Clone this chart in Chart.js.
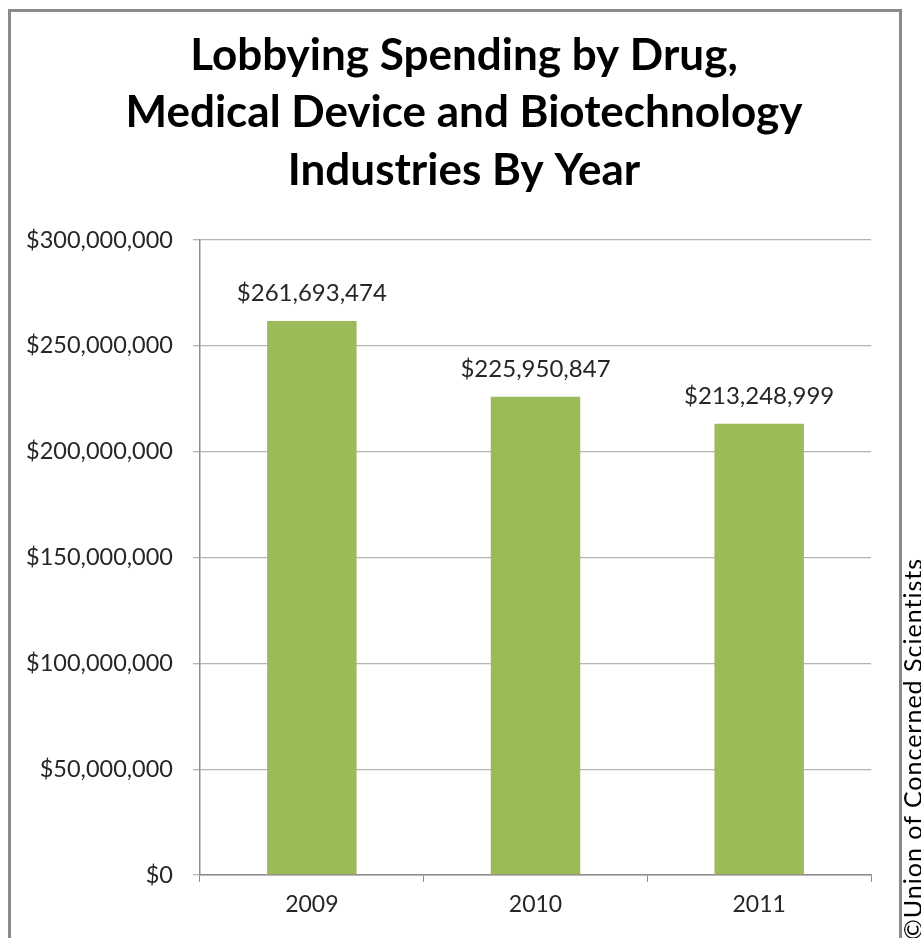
<!DOCTYPE html>
<html>
<head>
<meta charset="utf-8">
<script src="https://cdn.jsdelivr.net/npm/chart.js@4"></script>
<style>
  html, body { margin: 0; padding: 0; background: #fff; overflow: hidden; }
  #wrap { position: relative; width: 921px; height: 938px; overflow: hidden; }
  #frame { position: absolute; left: 8px; top: 9px; width: 894px; height: 960px;
           border: 3px solid #8a8a8a; box-sizing: border-box; }
  #canvas { position: absolute; left: 0; top: 0; }
  #credit { position: absolute; left: 897px; top: 940px; transform-origin: 0 0;
            transform: rotate(-90deg); white-space: nowrap; line-height: 1.2;
            letter-spacing: 1px;
            font-family: Lato, "Open Sans", sans-serif; font-size: 25px; color: #000; }
</style>
</head>
<body>
<div id="wrap">
  <div id="frame"></div>
  <canvas id="canvas" width="921" height="938"></canvas>
  <div id="credit">©Union of Concerned Scientists</div>
</div>
<script>
// lobbying totals per year
var years = ["2009", "2010", "2011"];
var spending = [261693474, 225950847, 213248999];
var yTicks = [0, 50000000, 100000000, 150000000, 200000000, 250000000, 300000000];

var titleLines = ["Lobbying Spending by Drug,", "Medical Device and Biotechnology", "Industries By Year"];

function dollars(v) {
  return "$" + Number(v).toLocaleString("en-US");
}

var fontFamily = "Lato, 'Open Sans', sans-serif";

// draws the dollar amount above every bar
var barLabels = {
  id: "barLabels",
  afterDatasetsDraw: function(chart) {
    var ctx = chart.ctx;
    var meta = chart.getDatasetMeta(0);
    ctx.save();
    ctx.font = "24px " + fontFamily;
    ctx.fillStyle = "#262626";
    ctx.textAlign = "center";
    ctx.textBaseline = "alphabetic";
    meta.data.forEach(function(bar, i) {
      ctx.fillText(dollars(chart.data.datasets[0].data[i]), bar.x, bar.y - 20);
    });
    ctx.restore();
  }
};

// centre the title on the frame rather than on the canvas
var frameTitle = {
  id: "frameTitle",
  afterLayout: function(chart) {
    if (chart.titleBlock) {
      chart.titleBlock.left = 57;
      chart.titleBlock.right = 871;
    }
  }
};

window.onload = function() {
  var ctx = document.getElementById("canvas").getContext("2d");
  window.myBar = new Chart(ctx, {
    type: "bar",
    data: {
      labels: years,
      datasets: [{
        data: spending,
        backgroundColor: "#9bbb59",
        borderWidth: 0,
        categoryPercentage: 1,
        barPercentage: 0.4
      }]
    },
    options: {
      responsive: false,
      animation: false,
      layout: { padding: { left: 0, right: 50, top: 0, bottom: 0 } },
      plugins: {
        legend: { display: false },
        tooltip: { enabled: false },
        title: {
          display: true,
          text: titleLines,
          color: "#000",
          font: { family: fontFamily, size: 44, weight: "bold", lineHeight: 1.307 },
          padding: { top: 27, bottom: 40.5 }
        }
      },
      scales: {
        x: {
          offset: true,
          grid: { offset: true, drawOnChartArea: false, drawTicks: true, tickLength: 7, color: "#8c8c8c" },
          border: { color: "#8c8c8c", width: 1.5 },
          ticks: { color: "#262626", font: { family: fontFamily, size: 23 }, padding: 9 },
          afterFit: function(scale) { scale.height = 63; }
        },
        y: {
          min: 0,
          max: 300000000,
          afterBuildTicks: function(scale) {
            scale.ticks = yTicks.map(function(v) { return { value: v }; });
          },
          grid: { color: "#b4b4b4", lineWidth: 1.3, tickLength: 7 },
          border: { color: "#8c8c8c", width: 1.5 },
          ticks: {
            color: "#262626",
            font: { family: fontFamily, size: 23.5 },
            padding: 20,
            callback: function(v) { return dollars(v); }
          },
          afterFit: function(scale) { scale.width = 200; }
        }
      }
    },
    plugins: [barLabels, frameTitle]
  });
};
</script>
</body>
</html>
